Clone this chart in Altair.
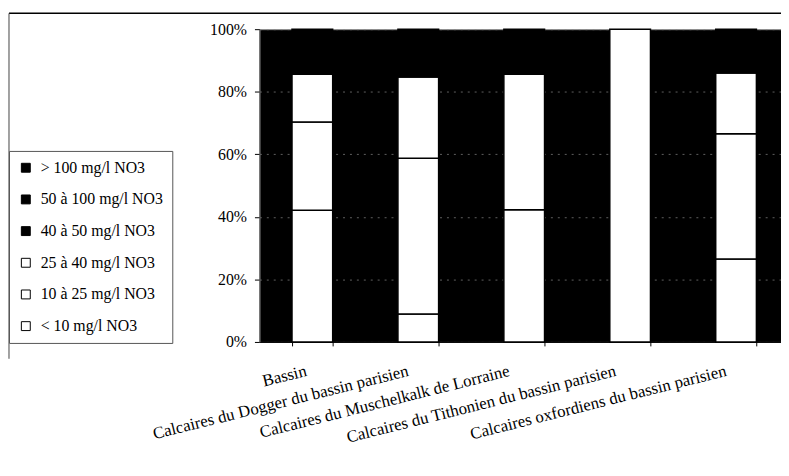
import altair as alt
import pandas as pd

categories = [
    "Bassin",
    "Calcaires du Dogger du bassin parisien",
    "Calcaires du Muschelkalk de Lorraine",
    "Calcaires du Tithonien du bassin parisien",
    "Calcaires oxfordiens du bassin parisien",
]
# classes from bottom of the stack to top
classes = [
    "< 10 mg/l NO3",
    "10 à 25 mg/l NO3",
    "25 à 40 mg/l NO3",
    "40 à 50 mg/l NO3",
    "50 à 100 mg/l NO3",
    "> 100 mg/l NO3",
]
class_colors = ["white", "white", "white", "black", "black", "black"]

# percentages per category
lt10 = [42.1, 8.9, 42.3, 100.0, 26.5]
c10_25 = [28.2, 49.8, 43.3, 0.0, 40.1]
c25_40 = [15.3, 26.0, 0.0, 0.0, 19.4]
c40_50 = [6.0, 7.0, 6.0, 0.0, 6.0]
c50_100 = [7.0, 7.3, 7.4, 0.0, 7.0]
gt100 = [1.4, 1.0, 1.0, 0.0, 1.0]
series = [lt10, c10_25, c25_40, c40_50, c50_100, gt100]

y_ticks = [0, 0.2, 0.4, 0.6, 0.8, 1.0]
label_shift = [-8.5, -12.5, -17.5, -17, -12.5]

rows = []
for k, (cls, vals) in enumerate(zip(classes, series)):
    for cat, v in zip(categories, vals):
        if v > 0:
            rows.append({"categorie": cat, "classe": cls, "valeur": v, "rang": k})
df = pd.DataFrame(rows)

legend_order = classes[::-1]
legend_colors = class_colors[::-1]

offset_cond = {
    "condition": [
        {"test": f"datum.value === '{c}'", "value": s}
        for c, s in zip(categories[:-1], label_shift[:-1])
    ],
    "value": label_shift[-1],
}

bars = alt.Chart(df).mark_bar(stroke="black", strokeWidth=1.5).encode(
    x=alt.X(
        "categorie:N",
        sort=categories,
        scale=alt.Scale(paddingInner=0.616, paddingOuter=0.27, align=0.57, round=False),
        axis=alt.Axis(
            title=None,
            labelAngle=-14,
            labelAlign="right",
            labelBaseline="top",
            labelFontSize=17,
            labelPadding=17,
            labelLimit=400,
            labelOverlap=False,
            labelOffset=offset_cond,
            tickBand="extent",
            tickSize=4,
            tickColor="black",
            domainColor="black",
            grid=False,
        ),
    ),
    y=alt.Y(
        "valeur:Q",
        stack="normalize",
        scale=alt.Scale(domain=[0, 1]),
        axis=alt.Axis(
            title=None,
            values=y_ticks,
            format=".0%",
            labelFontSize=16,
            labelPadding=8,
            tickSize=5,
            tickColor="black",
            grid=True,
            gridColor="#8a8a8a",
            gridDash=[2, 5],
            gridOpacity=0.7,
            domainColor="#555",
        ),
    ),
    color=alt.Color(
        "classe:N",
        scale=alt.Scale(domain=legend_order, range=legend_colors),
        legend=alt.Legend(
            orient="none",
            legendX=-253,
            legendY=123,
            title=None,
            symbolType="square",
            symbolSize=81,
            symbolStrokeColor="black",
            symbolStrokeWidth=1,
            labelFontSize=16,
            labelColor="black",
            labelOffset=7,
            labelLimit=300,
            rowPadding=16,
            padding=9,
            strokeColor="#555",
            fillColor="white",
        ),
    ),
    order=alt.Order("rang:Q", sort="ascending"),
)

one = pd.DataFrame({"a": [0]})
frame_top = alt.Chart(one).mark_rule(color="black", strokeWidth=1.5).encode(
    x=alt.value(-253), x2=alt.value(527), y=alt.value(-16)
)
frame_left = alt.Chart(one).mark_rule(color="#444", strokeWidth=1).encode(
    x=alt.value(-253), y=alt.value(-16), y2=alt.value(333)
)

chart = (
    alt.layer(frame_top, frame_left, bars)
    .properties(
        width=527,
        height=316,
        autosize=alt.AutoSizeParams(type="none"),
        padding={"left": 254, "top": 19, "right": 0, "bottom": 130},
    )
    .configure(font="Liberation Serif")
    .configure_view(fill="black", stroke="#888", strokeWidth=1)
    .configure_axis(labelColor="black", labelFont="Liberation Serif")
    .configure_legend(labelFont="Liberation Serif")
)

chart.save("out.html", embed_options={"renderer": "svg", "actions": False})
